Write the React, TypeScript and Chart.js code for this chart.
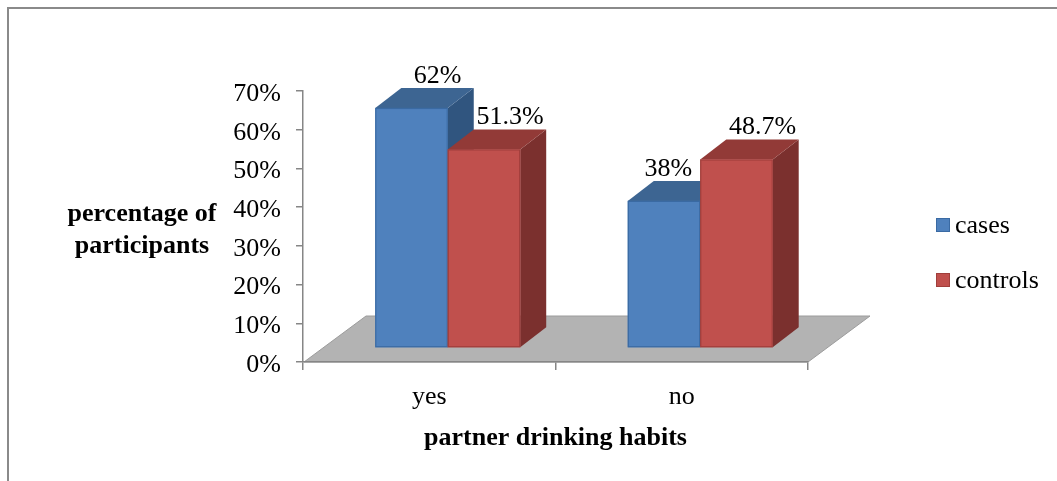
import React, { useEffect, useRef } from "react";
import { Chart, registerables } from "chart.js";

Chart.register(...registerables);

// ---- data ----
const categories = ["yes", "no"];
const seriesNames = ["cases", "controls"];
const casesValues = [62, 38];
const controlsValues = [51.3, 48.7];
const yMin = 0;
const yMax = 70;
const yStep = 10;
const yAxisTitle = ["percentage of", "participants"];
const xAxisTitle = "partner drinking habits";

// ---- style ----
const FAMILY = "'Liberation Serif', 'Times New Roman', serif";
const AXIS = "#868686";
const SHIFT = { x: 18.5, y: -14 };
const DEPTH = { x: 26, y: -20 };
const FLOOR = { x: 62, y: -46 };
const palette = [
  { front: "#4f81bd", edge: "#3a6aa3", top: "#3d6592", side: "#30557f" },
  { front: "#c0504d", edge: "#a03e3b", top: "#923a37", side: "#7b302e" },
];

const framePlugin = {
  id: "frame",
  beforeDraw(chart: any) {
    const ctx = chart.ctx;
    const { left, right, bottom } = chart.chartArea;
    ctx.save();
    ctx.fillStyle = "#ffffff";
    ctx.fillRect(0, 0, chart.width, chart.height);
    ctx.fillStyle = "#8a8a8a";
    ctx.fillRect(7, 7, chart.width - 7, 2);
    ctx.fillRect(7, 7, 2, chart.height - 7);
    // floor
    ctx.beginPath();
    ctx.moveTo(left + 1, bottom);
    ctx.lineTo(left + 1 + FLOOR.x, bottom + FLOOR.y);
    ctx.lineTo(right + FLOOR.x, bottom + FLOOR.y);
    ctx.lineTo(right, bottom);
    ctx.closePath();
    ctx.fillStyle = "#b3b3b3";
    ctx.fill();
    ctx.strokeStyle = "#9c9c9c";
    ctx.lineWidth = 1;
    ctx.stroke();
    ctx.restore();
  },
  afterDraw(chart: any) {
    const ctx = chart.ctx;
    const { left, right } = chart.chartArea;
    ctx.save();
    ctx.fillStyle = "#000";
    // y title
    ctx.font = `bold 26px ${FAMILY}`;
    ctx.textAlign = "center";
    ctx.textBaseline = "alphabetic";
    ctx.fillText(yAxisTitle[0], 142, 221);
    ctx.fillText(yAxisTitle[1], 142, 253);
    // x title
    ctx.fillText(xAxisTitle, (left + right) / 2, 445);
    // legend
    ctx.font = `26px ${FAMILY}`;
    ctx.textAlign = "left";
    ctx.textBaseline = "middle";
    chart.data.datasets.forEach((ds: any, i: number) => {
      const cy = 225 + i * 55;
      ctx.fillStyle = palette[i].front;
      ctx.fillRect(936, cy - 7, 14, 14);
      ctx.strokeStyle = palette[i].edge;
      ctx.lineWidth = 1;
      ctx.strokeRect(936.5, cy - 6.5, 13, 13);
      ctx.fillStyle = "#000";
      ctx.fillText(ds.label, 955, cy + 1);
    });
    ctx.restore();
  },
};

const bar3dPlugin = {
  id: "bar3d",
  beforeDatasetDraw() {
    return false;
  },
  afterDatasetsDraw(chart: any) {
    const ctx = chart.ctx;
    const bars: any[] = [];
    chart.data.datasets.forEach((ds: any, di: number) => {
      const meta = chart.getDatasetMeta(di);
      meta.data.forEach((el: any, i: number) => {
        const p = el.getProps(["x", "y", "base", "width"], true);
        bars.push({
          di,
          i,
          value: ds.data[i],
          left: p.x - p.width / 2 + SHIFT.x,
          right: p.x + p.width / 2 + SHIFT.x,
          top: p.y + SHIFT.y,
          bottom: p.base + SHIFT.y,
        });
      });
    });
    bars.sort((a, b) => a.left - b.left);
    ctx.save();
    for (const b of bars) {
      const c = palette[b.di];
      // side
      ctx.beginPath();
      ctx.moveTo(b.right, b.top);
      ctx.lineTo(b.right + DEPTH.x, b.top + DEPTH.y);
      ctx.lineTo(b.right + DEPTH.x, b.bottom + DEPTH.y);
      ctx.lineTo(b.right, b.bottom);
      ctx.closePath();
      ctx.fillStyle = c.side;
      ctx.fill();
      // top
      ctx.beginPath();
      ctx.moveTo(b.left, b.top);
      ctx.lineTo(b.left + DEPTH.x, b.top + DEPTH.y);
      ctx.lineTo(b.right + DEPTH.x, b.top + DEPTH.y);
      ctx.lineTo(b.right, b.top);
      ctx.closePath();
      ctx.fillStyle = c.top;
      ctx.fill();
      // front
      ctx.fillStyle = c.front;
      ctx.fillRect(b.left, b.top, b.right - b.left, b.bottom - b.top);
      ctx.strokeStyle = c.edge;
      ctx.lineWidth = 1.2;
      ctx.strokeRect(b.left + 0.5, b.top + 0.5, b.right - b.left - 1, b.bottom - b.top - 1);
    }
    // value labels
    ctx.font = `26px ${FAMILY}`;
    ctx.fillStyle = "#000";
    ctx.textAlign = "center";
    ctx.textBaseline = "alphabetic";
    for (const b of bars) {
      const text = `${b.value}%`;
      const w = ctx.measureText(text).width;
      let cx = (b.left + b.right) / 2 + DEPTH.x;
      const baseY = b.top + DEPTH.y - 5;
      const next = bars.find((o) => o.i === b.i && o.di === b.di + 1);
      if (next && next.top < baseY && cx + w / 2 > next.left - 8) {
        cx = next.left - 8 - w / 2;
      }
      ctx.fillText(text, cx, baseY);
    }
    ctx.restore();
  },
};

export default function App() {
  const ref = useRef<HTMLCanvasElement>(null);
  useEffect(() => {
    const canvas = ref.current!;
    const font = { family: FAMILY, size: 26 };
    const chart = new Chart(canvas, {
      type: "bar",
      data: {
        labels: categories,
        datasets: [
          {
            label: seriesNames[0],
            data: casesValues,
            backgroundColor: palette[0].front,
            borderColor: palette[0].edge,
          },
          {
            label: seriesNames[1],
            data: controlsValues,
            backgroundColor: palette[1].front,
            borderColor: palette[1].edge,
          },
        ],
      },
      options: {
        responsive: false,
        animation: false,
        devicePixelRatio: 1,
        layout: { padding: { left: 203, right: 249, top: 91, bottom: 59 } },
        datasets: { bar: { barPercentage: 1, categoryPercentage: 0.574 } },
        plugins: { legend: { display: false }, tooltip: { enabled: false } },
        scales: {
          x: {
            type: "category",
            offset: true,
            grid: {
              offset: true,
              drawOnChartArea: false,
              drawTicks: true,
              tickLength: 8,
              color: AXIS,
              lineWidth: 1.5,
            },
            border: { display: true, color: AXIS, width: 1.5 },
            ticks: { font, color: "#000", padding: 12, maxRotation: 0, autoSkip: false },
            afterFit: (s: any) => {
              s.height = 60;
            },
          },
          y: {
            type: "linear",
            min: yMin,
            max: yMax,
            ticks: {
              stepSize: yStep,
              autoSkip: false,
              font,
              color: "#000",
              padding: 15,
              labelOffset: 3,
              callback: (v: any) => `${v}%`,
            },
            grid: {
              drawOnChartArea: false,
              drawTicks: true,
              tickLength: 7,
              color: AXIS,
              lineWidth: 1.5,
            },
            border: { display: true, color: AXIS, width: 1.5 },
            afterFit: (s: any) => {
              s.width = 100;
            },
          },
        },
      } as any,
      plugins: [framePlugin, bar3dPlugin],
    });
    return () => chart.destroy();
  }, []);
  return (
    <div style={{ position: "fixed", left: 0, top: 0, width: 1057, height: 481, background: "#fff" }}>
      <canvas ref={ref} width={1057} height={481} style={{ display: "block", width: 1057, height: 481 }} />
    </div>
  );
}
